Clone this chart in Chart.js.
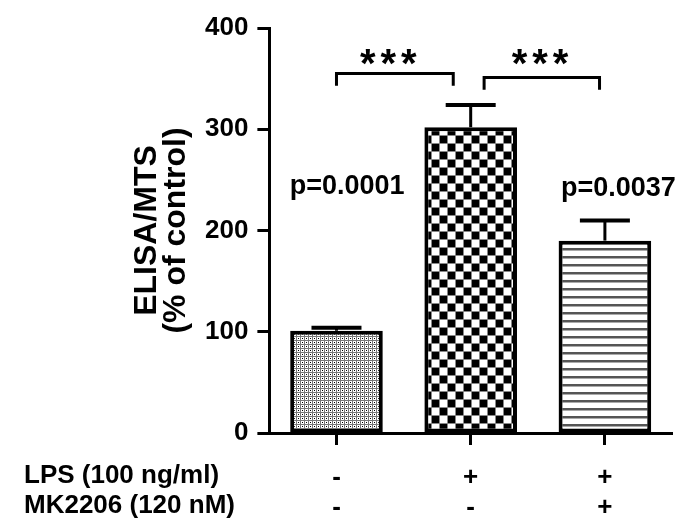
<!DOCTYPE html>
<html>
<head>
<meta charset="utf-8">
<script src="https://cdn.jsdelivr.net/npm/chart.js@4/dist/chart.umd.min.js"></script>
<style>
  html, body { margin: 0; background: #fff; }
  #wrap { width: 697px; height: 524px; }
</style>
</head>
<body>
<div id="wrap"><canvas id="chart"></canvas></div>
<script>
"use strict";

/* data */
const GROUPS = [["-", "-"], ["+", "-"], ["+", "+"]];
const ROW_LABELS = ["LPS (100 ng/ml)", "MK2206 (120 nM)"];
const MEANS = [101, 302, 190];
const ERRORS = [3, 22, 20];
const Y_MIN = 0;
const Y_MAX = 400;
const Y_STEP = 100;
const Y_TITLE = ["ELISA/MTS", "(% of control)"];
const P_LABELS = ["p=0.0001", "", "p=0.0037"];
const SIG_PAIRS = [[0, 1], [1, 2]];
const SIG_TEXT = ["***", "***"];

const FONT = "'Liberation Sans', Arial, sans-serif";

/* fill patterns */
const ctx = document.getElementById("chart").getContext("2d");

function makePattern(size, draw) {
  const tile = document.createElement("canvas");
  tile.width = size;
  tile.height = size;
  const g = tile.getContext("2d");
  g.fillStyle = "#fff";
  g.fillRect(0, 0, size, size);
  draw(g);
  return ctx.createPattern(tile, "repeat");
}

const dots = makePattern(4, (g) => {
  g.fillStyle = "#777";
  g.fillRect(0, 0, 4, 1);
  g.fillRect(0, 0, 1, 4);
  g.fillStyle = "#000";
  g.fillRect(2, 2, 1, 1);
});

const checks = makePattern(16, (g) => {
  g.fillStyle = "#000";
  g.fillRect(0, 0, 7, 7);
  g.fillRect(8, 8, 7, 7);
  g.fillStyle = "#888";
  g.fillRect(7, 0, 1, 16);
  g.fillRect(15, 0, 1, 16);
  g.fillRect(0, 7, 16, 1);
  g.fillRect(0, 15, 16, 1);
});

const stripes = makePattern(8, (g) => {
  g.fillStyle = "#555";
  g.fillRect(0, 0, 8, 2);
  g.fillStyle = "#aaa";
  g.fillRect(0, 2, 8, 1);
});

/* annotations: error bars, brackets, p-values, titles */
const annotate = {
  id: "annotate",
  afterDatasetsDraw(chart) {
    const c = chart.ctx;
    const x = chart.scales.x;
    const y = chart.scales.y;
    c.save();
    c.strokeStyle = "#000";
    c.fillStyle = "#000";

    // error bars (upper half only)
    MEANS.forEach((m, i) => {
      const px = x.getPixelForValue(i);
      const top = y.getPixelForValue(m + ERRORS[i]);
      const base = y.getPixelForValue(m);
      c.lineWidth = 3;
      c.beginPath();
      c.moveTo(px, base);
      c.lineTo(px, top);
      c.stroke();
      c.lineWidth = 4;
      c.beginPath();
      c.moveTo(px - 25, top);
      c.lineTo(px + 25, top);
      c.stroke();
    });

    // significance brackets
    const brackets = [
      { a: SIG_PAIRS[0][0], b: SIG_PAIRS[0][1] - 0.13, top: 355, leg: 343, star: 0.39 },
      { a: SIG_PAIRS[1][0] + 0.1, b: SIG_PAIRS[1][1] - 0.04, top: 351, leg: 339, star: 1.52 },
    ];
    c.lineWidth = 3;
    brackets.forEach((br, i) => {
      const x1 = x.getPixelForValue(br.a);
      const x2 = x.getPixelForValue(br.b);
      const yt = y.getPixelForValue(br.top);
      const yl = y.getPixelForValue(br.leg);
      c.beginPath();
      c.moveTo(x1, yl);
      c.lineTo(x1, yt);
      c.lineTo(x2, yt);
      c.lineTo(x2, yl);
      c.stroke();
      c.font = "bold 40px " + FONT;
      c.textAlign = "center";
      c.textBaseline = "alphabetic";
      c.letterSpacing = "5px";
      c.fillText(SIG_TEXT[i], x.getPixelForValue(br.star) + 2, y.getPixelForValue(352));
      c.letterSpacing = "0px";
    });

    // p-values
    c.font = "bold 27px " + FONT;
    c.textAlign = "center";
    const pPos = [[0.08, 236], null, [2.1, 234]];
    P_LABELS.forEach((t, i) => {
      if (!t) return;
      c.fillText(t, x.getPixelForValue(pPos[i][0]), y.getPixelForValue(pPos[i][1]));
    });

    // y title
    const midY = (chart.chartArea.top + chart.chartArea.bottom) / 2;
    c.font = "bold 32px " + FONT;
    c.textBaseline = "middle";
    [147, 176].forEach((tx, i) => {
      c.save();
      c.translate(tx, midY);
      c.rotate(-Math.PI / 2);
      c.fillText(Y_TITLE[i], 0, 0);
      c.restore();
    });

    // row labels below the axis
    c.font = "bold 26px " + FONT;
    c.textAlign = "left";
    c.textBaseline = "alphabetic";
    const y0 = y.getPixelForValue(0);
    ROW_LABELS.forEach((t, i) => {
      c.fillText(t, 24, y0 + 50 + i * 30);
    });
    c.restore();
  },
};

new Chart(ctx, {
  type: "bar",
  data: {
    labels: GROUPS,
    datasets: [
      {
        data: MEANS,
        backgroundColor: [dots, checks, stripes],
        borderColor: "#000",
        borderWidth: 4,
        borderSkipped: false,
        barPercentage: 0.69,
        categoryPercentage: 1,
      },
    ],
  },
  options: {
    responsive: true,
    maintainAspectRatio: false,
    animation: false,
    layout: { padding: { left: 196, right: 25, top: 28, bottom: 0 } },
    plugins: { legend: { display: false }, tooltip: { enabled: false } },
    scales: {
      x: {
        afterFit(scale) {
          scale.height = 91;
        },
        grid: {
          offset: false,
          drawOnChartArea: false,
          tickLength: 12,
          tickWidth: 3,
          tickColor: "#000",
        },
        border: { color: "#000", width: 3 },
        ticks: {
          color: "#000",
          padding: 18,
          font: { family: FONT, size: 26, weight: "bold", lineHeight: 1.15 },
        },
      },
      y: {
        min: Y_MIN,
        max: Y_MAX,
        grid: {
          drawOnChartArea: false,
          tickLength: 12,
          tickWidth: 3,
          tickColor: "#000",
        },
        border: { color: "#000", width: 3 },
        ticks: {
          stepSize: Y_STEP,
          color: "#000",
          padding: 9,
          font: { family: FONT, size: 26, weight: "bold" },
        },
      },
    },
  },
  plugins: [annotate],
});
</script>
</body>
</html>
